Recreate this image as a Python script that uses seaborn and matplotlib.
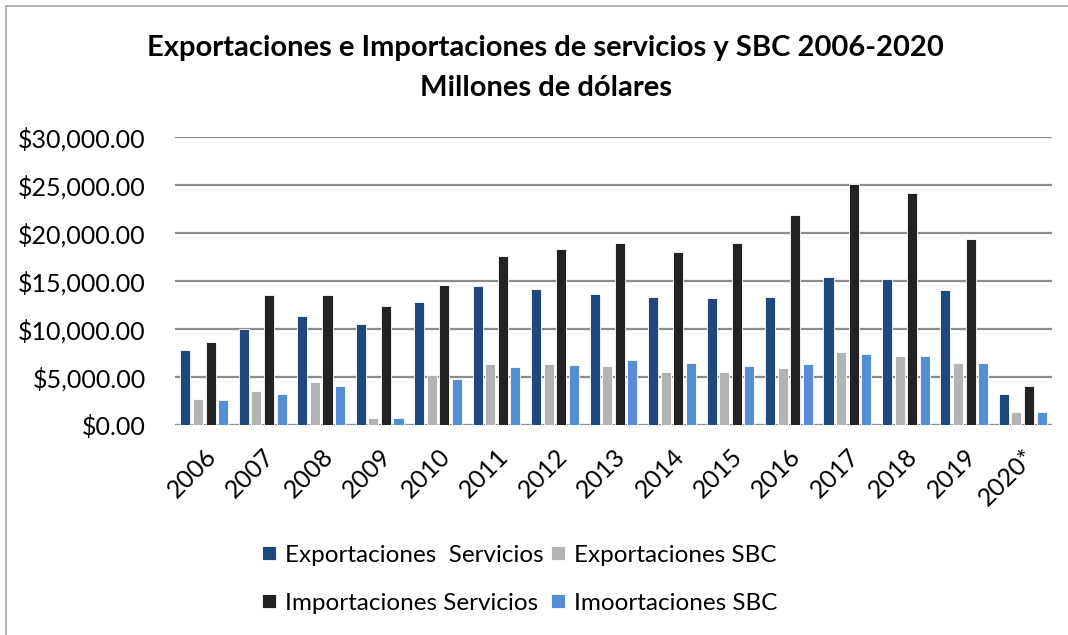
import numpy as np
import pandas as pd
import matplotlib.pyplot as plt
import seaborn as sns
from matplotlib.ticker import FuncFormatter
from matplotlib.patches import Rectangle

# Datos (millones de dólares)
anios = ['2006', '2007', '2008', '2009', '2010', '2011', '2012', '2013',
         '2014', '2015', '2016', '2017', '2018', '2019', '2020*']
exp_servicios = [7850, 10000, 11400, 10500, 12800, 14450, 14200, 13650,
                 13350, 13250, 13400, 15450, 15250, 14050, 3250]
exp_sbc = [2700, 3550, 4500, 800, 5250, 6400, 6400, 6200,
           5550, 5550, 6000, 7650, 7200, 6450, 1400]
imp_servicios = [8650, 13600, 13600, 12450, 14600, 17600, 18350, 19000,
                 18000, 19000, 21850, 25150, 24200, 19350, 4100]
imp_sbc = [2600, 3250, 4100, 800, 4850, 6050, 6250, 6750,
           6450, 6200, 6400, 7400, 7250, 6450, 1400]

series = ['Exportaciones  Servicios', 'Exportaciones SBC',
          'Importaciones Servicios', 'Imoortaciones SBC']
colores = ['#1F497D', '#B3B3B3', '#222222', '#558ED5']

df = pd.DataFrame({
    'anio': anios * 4,
    'serie': np.repeat(series, len(anios)),
    'valor': exp_servicios + exp_sbc + imp_servicios + imp_sbc,
})

plt.rcParams['font.family'] = ['Lato', 'DejaVu Sans']

fig = plt.figure(figsize=(10.68, 6.35), dpi=100)
ax = fig.add_axes([0.1639, 0.3302, 0.985 - 0.1639, 0.7843 - 0.3302])

sns.barplot(data=df, x='anio', y='valor', hue='serie', hue_order=series,
            palette=colores, saturation=1, width=0.86, gap=0.2, ax=ax,
            edgecolor='white', linewidth=0.6)

ax.set_ylim(0, 30000)
ax.set_yticks(np.arange(0, 30001, 5000))
ax.yaxis.set_major_formatter(FuncFormatter(lambda v, p: f'${v:,.2f}'))
ax.grid(axis='y', color='#8C8C8C', linewidth=1.6)
ax.set_axisbelow(True)
for s in ax.spines.values():
    s.set_visible(False)
ax.tick_params(axis='both', length=0, labelsize=18, colors='black')
ax.tick_params(axis='y', pad=21)
ax.tick_params(axis='x', pad=14)
plt.setp(ax.get_xticklabels(), rotation=45, ha='right', rotation_mode='anchor')
ax.set_xlabel('')
ax.set_ylabel('')

# Leyenda (2 filas, orden como en la referencia)
handles, labels = ax.get_legend_handles_labels()
orden = [0, 2, 1, 3]
ax.legend([handles[i] for i in orden], [labels[i] for i in orden],
          ncol=2, loc='center', bbox_to_anchor=(0.487, 0.088), bbox_transform=fig.transFigure,
          frameon=False, fontsize=17.5, handlelength=0.55, handleheight=0.55,
          handletextpad=0.4, columnspacing=0.3, labelspacing=1.12)

# Título
fig.text(0.511, 0.924, 'Exportaciones e Importaciones de servicios y SBC 2006-2020',
         ha='center', va='center', fontsize=21, fontweight='bold')
fig.text(0.511, 0.861, 'Millones de dólares',
         ha='center', va='center', fontsize=21, fontweight='bold')

# Borde del gráfico
fig.patches.append(Rectangle((6 / 1068, -0.05), 1.2, 1 - 6 / 635 + 0.05,
                             transform=fig.transFigure, fill=False,
                             edgecolor='#A6A6A6', linewidth=1.2))

fig.savefig('out.png', dpi=100)
